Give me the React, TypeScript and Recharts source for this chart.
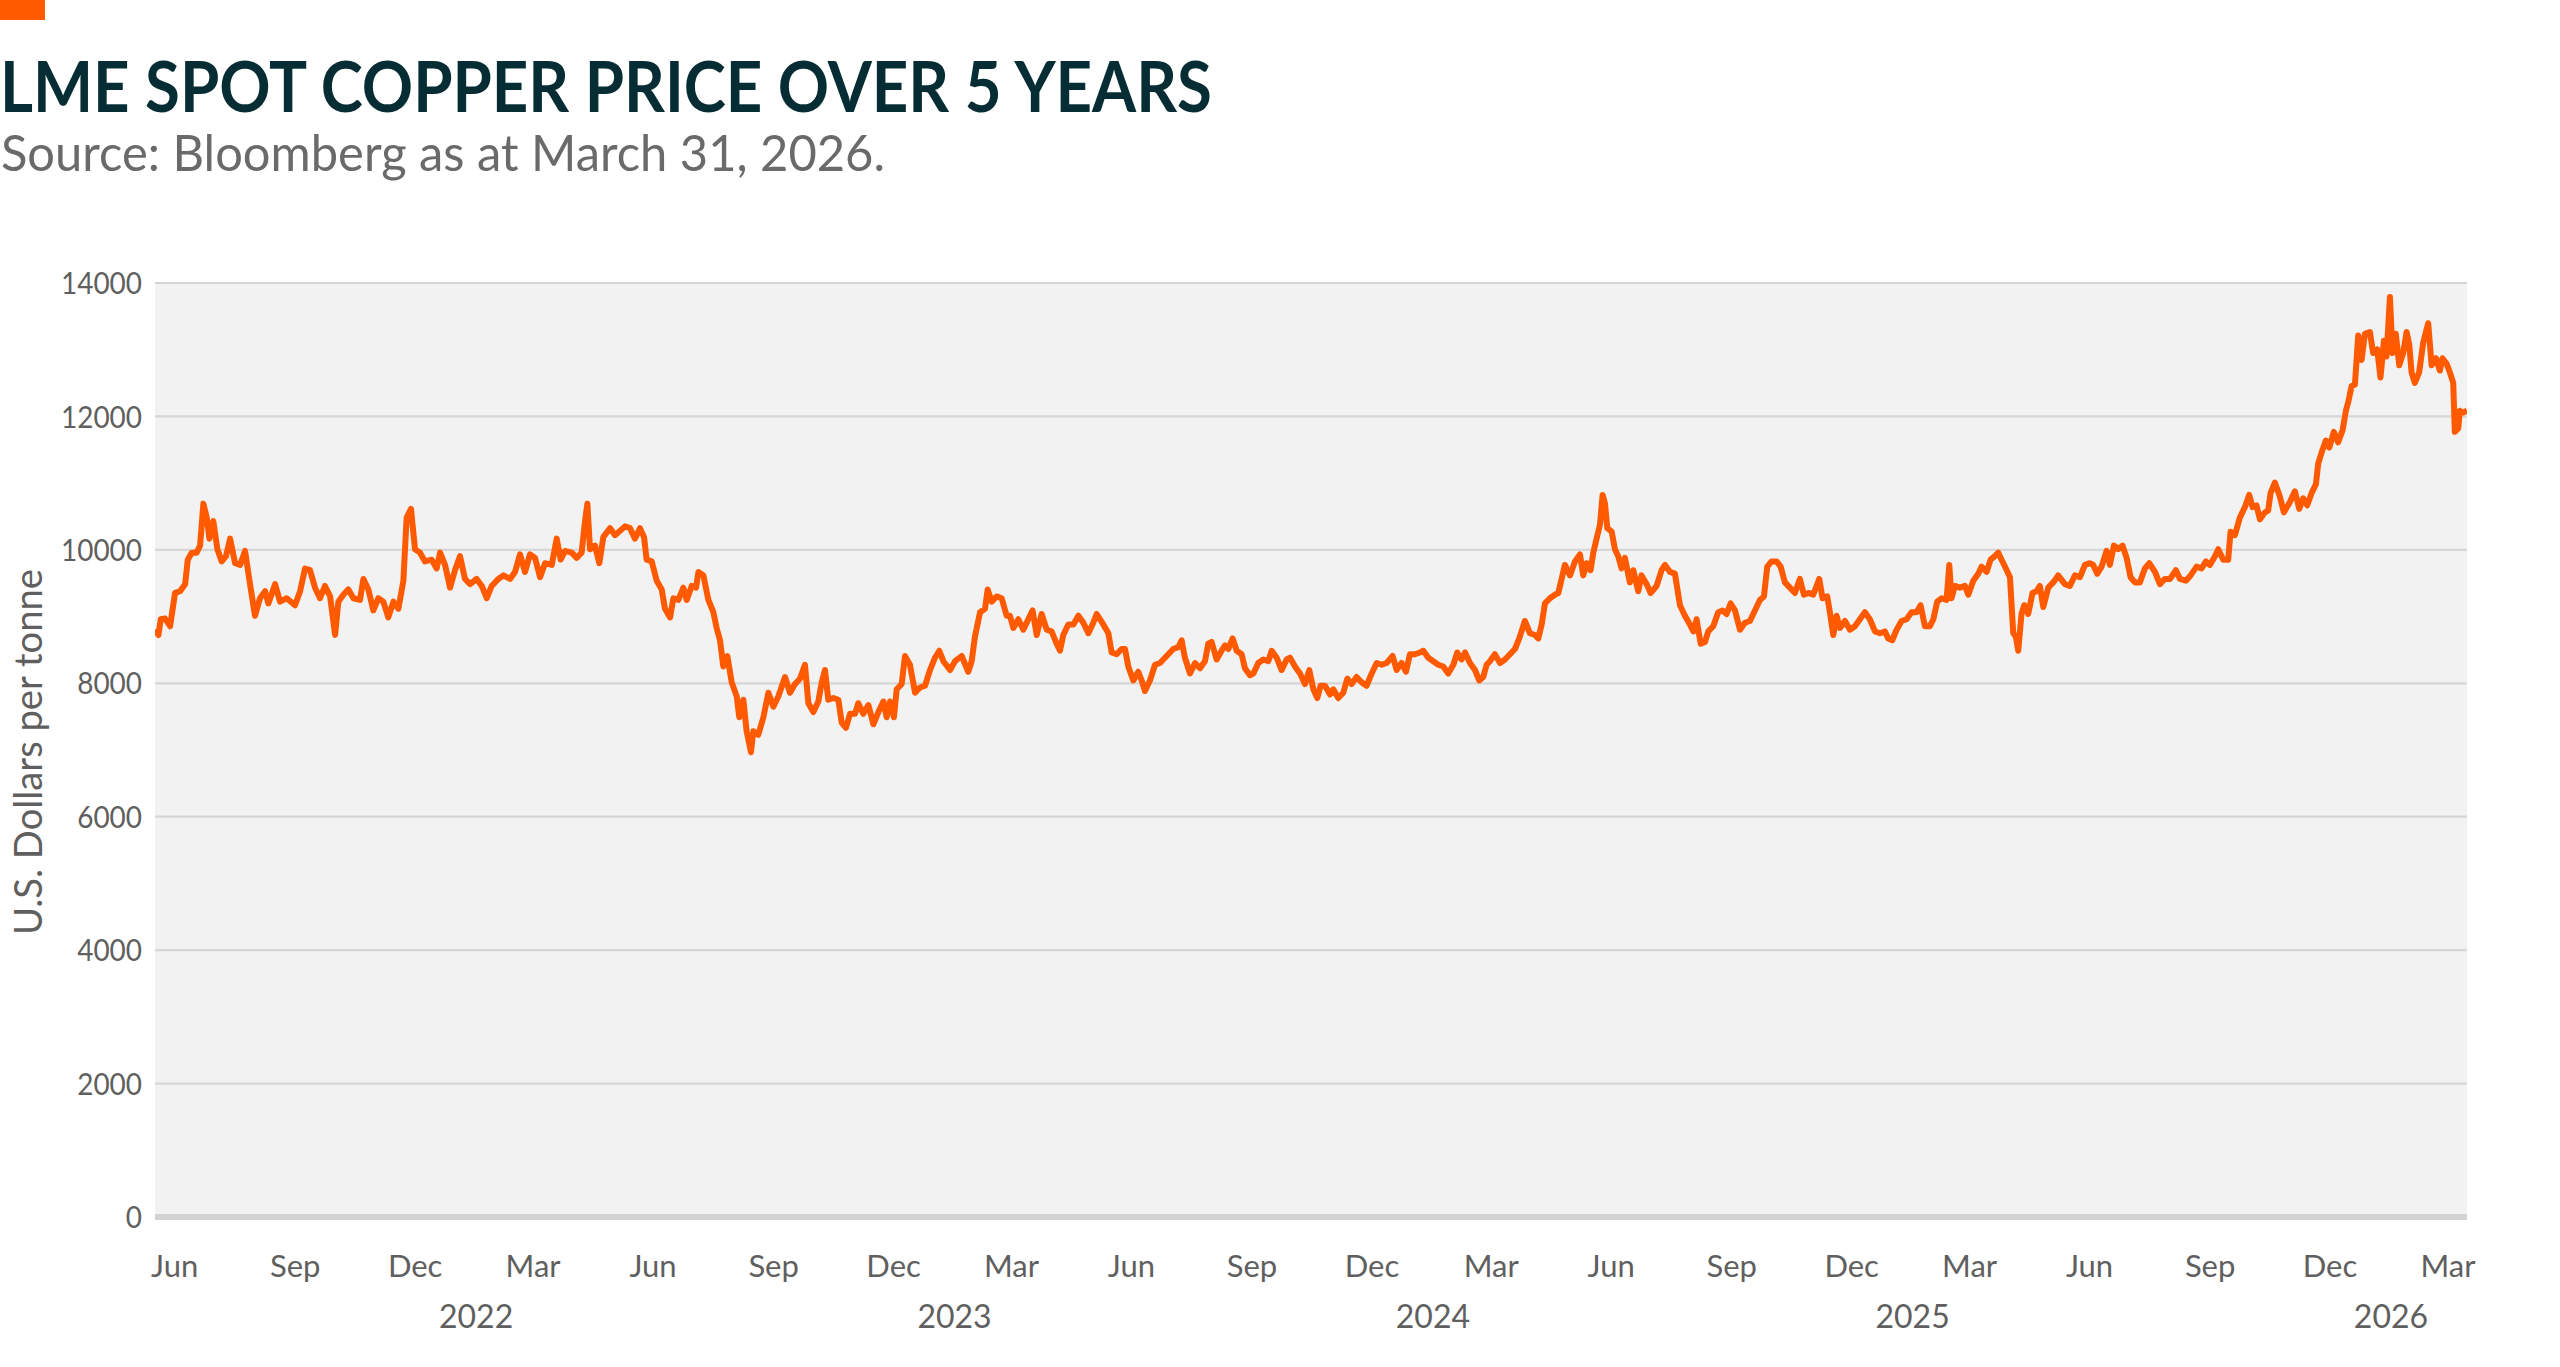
import React from "react";
import { LineChart, Line, XAxis, YAxis, CartesianGrid } from "recharts";

// LME spot copper, USD per tonne
const START_DATE = "2021-06-01";
const END_DAY = 1764; // 2026-03-31

const daysSinceStart = [
  0, 2.6, 4.4, 7.7, 11.5, 15.3, 19.1, 23, 25, 28, 31.8, 34.4, 36.9, 39.5, 41.5, 44.5, 47.6, 50.9, 54.2, 57.3,
  61.1, 64.9, 68.7, 72.5, 76.3, 80.1, 84, 86.5, 91.6, 95.4, 100.5, 106.8, 110.7, 114.5, 118.3, 122.1, 125.9, 129.7, 133.6, 137.4,
  139.9, 143.7, 147.5, 151.4, 156.4, 159, 162.8, 166.6, 170.4, 174.2, 178, 181.9, 185.7, 189.5, 192, 195.3, 198.4, 202.2, 206, 211.1,
  214.9, 217.5, 221.3, 225.1, 228.9, 232.7, 236.5, 240.4, 245.4, 249.3, 253.1, 256.9, 262, 265.8, 270.9, 274.7, 278.5, 282.3, 286.1, 290,
  293.8, 297.6, 302.7, 306.5, 309.5, 312.8, 317.9, 321.7, 325.5, 328.1, 329.9, 331.9, 335.7, 339, 342.1, 347.2, 351,
  358.6, 362.4, 366.2, 370, 373.1, 375.1, 379, 382.8, 386.6, 389.1, 393, 395.5, 399.3, 403.1, 405.7, 409.5, 412.8, 414.6, 418.4, 422.2,
  426, 428.5, 431.1, 433.6, 436.7, 440, 443.8, 445.8, 448.9, 451.4, 454.7, 456.5, 460.3, 464.2, 468, 471.8, 475.6, 480.7, 484.5, 488.3,
  492.1, 495.9, 498.5, 502.3, 506.1, 508.7, 511.2, 513.7, 517.6, 521.4, 523.9, 527.2, 530.3, 534.1, 536.6, 540.4, 544.3, 548.1, 551.9, 555.7,
  558.2, 560.8, 563.8, 565.9, 569.7, 572.2, 576, 579.9, 583.7, 587.5, 591.3, 595.1, 598.4, 601.5, 606.6, 610.4, 615.5, 620.5, 623.1, 625.6,
  629.5, 633.3, 635.3, 638.4, 642.2, 646, 649.8, 652.3, 654.9, 658.7, 662.5, 666.3, 669.6, 672.7, 676.5, 680.3, 684.1, 687.9, 690.5, 693,
  696.8, 700.7, 704.5, 708.3, 712.1, 715.9, 718.5,
  723.5, 727.4, 729.9, 733.7, 737.5, 740.1, 742.6, 746.4, 750.2, 752.8, 755.3, 759.1, 763, 766.8, 770.6, 774.4, 776.9, 780.8, 783.3, 785.8,
  789.7, 793.5, 797.3, 801.1, 803.6, 806.2, 810, 813.8, 816.4, 818.9, 822.2, 825.3, 829.1, 831.6, 835.4, 838, 841.8, 845.6, 849.4, 852,
  855.8, 859.6, 863.4, 866, 869.8, 873.6, 877.4, 880.7, 883.8, 886.8, 889.3, 892.7, 896.5, 899, 902.8, 906.6, 909.7, 913, 916.8, 920.6,
  924.4, 928.3, 932.1, 935.9, 939.7, 944.3, 947.3, 951.1, 954.4, 957.5, 961.3, 965.1, 967.7, 971.5, 975.3, 979.1, 982.9, 986.7, 990.6, 993.6,
  996.9, 999.5, 1003.3, 1007.1, 1010.4, 1013.4, 1016, 1018.5, 1022.3, 1026.2, 1030, 1033.8, 1037.6, 1040.9, 1045.2, 1049, 1052.9, 1055.4, 1058, 1060.5,
  1064.3, 1068.1, 1070.7, 1073.2, 1075.7, 1079.6, 1083.4,
  1087.2, 1089.7, 1092.3, 1095.3, 1097.4, 1099.9, 1102.5, 1104.5, 1106.3, 1108.1, 1111.4, 1113.9, 1116.4, 1119, 1121.5, 1125.3, 1127.9, 1131.7, 1134.2, 1138.1,
  1141.1, 1145.7, 1149.5, 1152.1, 1155.9, 1159.7, 1163.5, 1167.3, 1171.1, 1173.7, 1176.2, 1179.3, 1182.6, 1185.1, 1188.9, 1192.7, 1196, 1199.1, 1202.1, 1205.5,
  1209.3, 1213.1, 1216.9, 1220.7, 1224.5, 1227.6, 1230.1, 1233.4, 1237.2, 1240.3, 1243.6, 1247.4, 1251.2, 1255, 1258.1, 1261.4, 1265.2, 1269.8, 1272.3, 1275.9,
  1277.9, 1280.5, 1283, 1285.6, 1289.4, 1293.2, 1297, 1300.8, 1304.6, 1308.4, 1312.3, 1316.1, 1319.9, 1322.4, 1325.5, 1328.8, 1332.6, 1336.4, 1340.2, 1344,
  1347.1, 1350.4, 1354.2, 1356.8, 1359.8, 1363.1, 1366.9, 1369, 1370.7, 1373.3, 1377.1, 1380.9, 1383.5, 1387.3, 1391.1, 1393.6, 1397.5, 1400.5, 1403.8, 1406.4,
  1408.9, 1412.2, 1415.3, 1417.8, 1419.8, 1421.6, 1424.1, 1426.2, 1429.2, 1432.5, 1435.6, 1438.1, 1440.7, 1444.5, 1448.3, 1452.1,
  1457.2, 1461, 1464.8, 1468.7, 1472.5, 1476.3, 1478.8, 1481.9, 1485.2, 1489, 1491.5, 1494.6, 1497.9, 1501.2, 1504.3, 1507.3, 1510.6, 1514.4, 1518.2, 1521.6,
  1525.9, 1529.7, 1533.5, 1537.3, 1541.9, 1545, 1549.5, 1553.1, 1557.7, 1561.5, 1564.8, 1567.8, 1571.7, 1574.2, 1578, 1581.8, 1583.6, 1586.9, 1590.7, 1594.5,
  1597.8, 1600.4, 1603.4, 1606, 1609.8, 1612.3, 1614.1, 1617.4, 1621.2, 1624.3, 1628.9, 1632.7, 1636, 1639, 1642.1, 1645.4, 1648.7, 1650.5, 1653, 1656.3,
  1658.9, 1662.4, 1665.7, 1669.1, 1671.6, 1673.4, 1675.9, 1678.5, 1681, 1683.6, 1686.1, 1689.9, 1692.4, 1695.5, 1698, 1700.6, 1702.6, 1705.2, 1707.2, 1709.7,
  1712.3, 1715.3, 1717.9, 1719.9, 1721.7, 1724.2, 1727.5, 1730.6, 1734.4, 1737, 1740.3, 1743.3, 1745.3, 1748.4, 1750.9, 1753.5, 1754.7, 1757.3, 1758.6, 1761.1,
  1764,
];

const copperPrice = [
  8803, 8724, 8960, 8971, 8855, 9354, 9380, 9486, 9853, 9958, 9958, 10063, 10693, 10483, 10168, 10430, 10010, 9827, 9905, 10168,
  9800, 9774, 9984, 9486, 9013, 9275, 9380, 9197, 9486, 9223, 9275, 9170, 9380, 9721, 9695, 9433, 9275, 9459, 9302, 8724,
  9223, 9328, 9407, 9275, 9249, 9564, 9407, 9092, 9275, 9223, 8987, 9223, 9118, 9538, 10483, 10614, 10010, 9958, 9827, 9853,
  9721, 9958, 9774, 9433, 9695, 9905, 9564, 9486, 9564, 9459, 9275, 9459, 9564, 9617, 9564, 9669, 9932, 9669, 9932, 9879,
  9590, 9800, 9774, 10168, 9853, 9984, 9958, 9879, 9958, 10430, 10693, 10010, 10063, 9800, 10194, 10325, 10220,
  10352, 10325, 10168, 10325, 10194, 9853, 9827, 9538, 9407, 9118, 8987, 9275, 9249, 9433, 9249, 9459, 9433, 9669, 9617, 9249,
  9066, 8829, 8645, 8252, 8409, 8016, 7806, 7491, 7753, 7281, 6966, 7281, 7229, 7491, 7858, 7648, 7806, 8094, 7858, 7989,
  8068, 8278, 7701, 7569, 7727, 8016, 8199, 7753, 7779, 7753, 7412, 7333, 7543, 7543, 7701, 7543, 7674, 7386, 7569, 7727,
  7491, 7727, 7491, 7910, 7989, 8409, 8278, 7858, 7937, 7963, 8199, 8383, 8488, 8331, 8199, 8331, 8409, 8173, 8331, 8698,
  9066, 9118, 9407, 9223, 9302, 9275, 9013, 9013, 8829, 8960, 8803, 8960, 9092, 8724, 9039, 8803, 8777, 8593, 8488, 8724,
  8882, 8882, 9013, 8908, 8750, 8908, 9039,
  8882, 8750, 8462, 8435, 8514, 8514, 8252, 8042, 8173, 8042, 7884, 8042, 8278, 8304, 8383, 8462, 8514, 8541, 8645, 8383,
  8147, 8304, 8226, 8331, 8593, 8619, 8357, 8488, 8567, 8514, 8672, 8488, 8435, 8226, 8121, 8147, 8304, 8357, 8331, 8488,
  8383, 8199, 8357, 8383, 8252, 8147, 7989, 8199, 7910, 7779, 7963, 7963, 7832, 7910, 7779, 7858, 8068, 7989, 8094, 8016,
  7963, 8147, 8304, 8278, 8304, 8409, 8199, 8304, 8173, 8435, 8435, 8462, 8488, 8383, 8331, 8278, 8252, 8147, 8278, 8462,
  8357, 8462, 8304, 8199, 8042, 8094, 8278, 8331, 8435, 8304, 8357, 8435, 8514, 8672, 8934, 8750, 8724, 8672, 8882, 9197,
  9275, 9328, 9354, 9564, 9774, 9617, 9827,
  9932, 9617, 9800, 9695, 9958, 10168, 10378, 10824, 10693, 10325, 10273, 10010, 9905, 9721, 9879, 9512, 9695, 9380, 9617, 9486,
  9354, 9459, 9695, 9774, 9669, 9643, 9170, 9013, 8882, 8777, 8960, 8593, 8619, 8777, 8855, 9066, 9092, 9039, 9197, 9092,
  8803, 8908, 8934, 9092, 9249, 9302, 9748, 9827, 9827, 9748, 9512, 9433, 9354, 9564, 9328, 9354, 9328, 9564, 9275, 9302,
  9066, 8724, 9013, 8829, 8934, 8803, 8855, 8960, 9066, 8960, 8777, 8750, 8777, 8672, 8645, 8803, 8934, 8960, 9066, 9066,
  9170, 8855, 8855, 8960, 9223, 9275, 9249, 9774, 9275, 9459, 9433, 9459, 9328, 9538, 9643, 9748, 9669, 9853, 9905, 9958,
  9853, 9721, 9590, 8750, 8698, 8488, 9039, 9170, 9039, 9354, 9380, 9459, 9144, 9433, 9512, 9617,
  9486, 9459, 9617, 9590, 9774, 9800, 9774, 9643, 9748, 9984, 9774, 10063, 10010, 10063, 9879, 9590, 9512, 9512, 9721, 9800,
  9669, 9486, 9564, 9564, 9695, 9564, 9538, 9617, 9748, 9721, 9827, 9774, 9905, 10010, 9853, 9853, 10273, 10220, 10483, 10640,
  10824, 10640, 10667, 10457, 10562, 10588, 10850, 11008, 10798, 10562, 10719, 10877, 10614, 10772, 10667, 10850, 10982, 11297, 11454, 11638,
  11533, 11769, 11612, 11795, 12084, 12215, 12452, 12478, 13213, 12846, 13239, 13266, 12950, 13003, 12583, 13134, 12898, 13790, 12950, 13239,
  12767, 12950, 13266, 13082, 12662, 12504, 12662, 13108, 13397, 12767, 12872, 12688, 12872, 12793, 12662, 12504, 11769, 11821, 12084, 12058,
  12084,
];

const yTicks = [0, 2000, 4000, 6000, 8000, 10000, 12000, 14000];
const monthTickLabels = [
  "2021-06", "2021-09", "2021-12", "2022-03", "2022-06", "2022-09", "2022-12", "2023-03", "2023-06", "2023-09",
  "2023-12", "2024-03", "2024-06", "2024-09", "2024-12", "2025-03", "2025-06", "2025-09", "2025-12", "2026-03",
];
const yearTickLabels = ["2022", "2023", "2024", "2025", "2026"];
const MONTH_NAMES = ["Jan", "Feb", "Mar", "Apr", "May", "Jun", "Jul", "Aug", "Sep", "Oct", "Nov", "Dec"];

const DAY_MS = 86400000;
const startMs = Date.parse(START_DATE + "T00:00:00Z");
const toDay = (y: number, m: number, d: number) => (Date.UTC(y, m, d) - startMs) / DAY_MS;

// month labels sit in the middle of their month
const monthTicks = monthTickLabels.map((s) => {
  const [y, m] = s.split("-").map(Number);
  return (toDay(y, m - 1, 1) + toDay(y, m, 1)) / 2;
});
const monthName = (v: number) => {
  const i = monthTicks.findIndex((t) => Math.abs(t - v) < 0.01);
  return i < 0 ? "" : MONTH_NAMES[Number(monthTickLabels[i].split("-")[1]) - 1];
};
// year labels between the Dec and Mar labels
const yearTicks = yearTickLabels.map((y) => toDay(Number(y), 1, 1));
const yearName = (v: number) => {
  const i = yearTicks.findIndex((t) => Math.abs(t - v) < 0.01);
  return i < 0 ? "" : yearTickLabels[i];
};

const data = daysSinceStart.map((day, i) => ({ day, price: copperPrice[i] }));

const FONT = "Lato, 'Open Sans', sans-serif";
const TEXT_GREY = "#5f5f5f";
const ORANGE = "#ff5a00";

// the source font is narrower than Lato, so squeeze the digits a little
function YTick({ x, y, payload }: any) {
  const label = String(payload.value);
  return (
    <text
      x={x}
      y={y}
      dy="0.36em"
      textAnchor="end"
      fontFamily={FONT}
      fontSize={31}
      fill={TEXT_GREY}
      textLength={label.length * 16.2}
      lengthAdjust="spacingAndGlyphs"
    >
      {label}
    </text>
  );
}

export default function App() {
  return (
    <div
      style={{
        position: "absolute",
        left: 0,
        top: 0,
        width: 2560,
        height: 1367,
        background: "#ffffff",
        fontFamily: FONT,
        overflow: "hidden",
      }}
    >
      <div style={{ position: "absolute", left: 0, top: 0, width: 45, height: 20, background: ORANGE }} />
      <svg width={2560} height={1367} style={{ position: "absolute", left: 0, top: 0, pointerEvents: "none" }}>
        <text
          x={0}
          y={112}
          fontFamily={FONT}
          fontWeight={700}
          fontSize={70}
          fill="#062d34"
          textLength={1212}
          lengthAdjust="spacingAndGlyphs"
        >
          LME SPOT COPPER PRICE OVER 5 YEARS
        </text>
        <text
          x={1}
          y={171}
          fontFamily={FONT}
          fontSize={51}
          fill="#6a6a6a"
          textLength={884}
          lengthAdjust="spacingAndGlyphs"
        >
          Source: Bloomberg as at March 31, 2026.
        </text>
        <text
          transform="translate(42, 752) rotate(-90)"
          textAnchor="middle"
          fontFamily={FONT}
          fontSize={39}
          fill={TEXT_GREY}
          textLength={366}
          lengthAdjust="spacingAndGlyphs"
        >
          U.S. Dollars per tonne
        </text>
      </svg>
      <div style={{ position: "absolute", left: 0, top: 0 }}>
        <LineChart
          width={2560}
          height={1367}
          data={data}
          margin={{ top: 283, right: 93, bottom: 30, left: 55 }}
        >
          <CartesianGrid
            xAxisId="month"
            vertical={false}
            fill="#f2f2f2"
            stroke="#d6d6d6"
            strokeWidth={2.2}
          />
          <XAxis
            xAxisId="month"
            type="number"
            dataKey="day"
            domain={[0, END_DAY]}
            allowDataOverflow
            ticks={monthTicks}
            interval={0}
            tickFormatter={monthName}
            height={60}
            tickLine={false}
            axisLine={{ stroke: "#d3d3d3", strokeWidth: 6 }}
            tickMargin={32}
            tick={{ fill: TEXT_GREY, fontSize: 31, fontFamily: FONT }}
          />
          <XAxis
            xAxisId="year"
            type="number"
            dataKey="day"
            domain={[0, END_DAY]}
            allowDataOverflow
            ticks={yearTicks}
            interval={0}
            tickFormatter={yearName}
            height={60}
            tickLine={false}
            axisLine={false}
            tickMargin={22}
            tick={{ fill: TEXT_GREY, fontSize: 32, fontFamily: FONT }}
          />
          <YAxis
            type="number"
            domain={[0, 14000]}
            ticks={yTicks}
            interval={0}
            width={100}
            tickLine={false}
            axisLine={false}
            tickMargin={7}
            tick={<YTick />}
          />
          <Line
            xAxisId="month"
            type="linear"
            dataKey="price"
            stroke={ORANGE}
            strokeWidth={6}
            strokeLinejoin="round"
            dot={false}
            activeDot={false}
            isAnimationActive={false}
          />
        </LineChart>
      </div>
    </div>
  );
}
